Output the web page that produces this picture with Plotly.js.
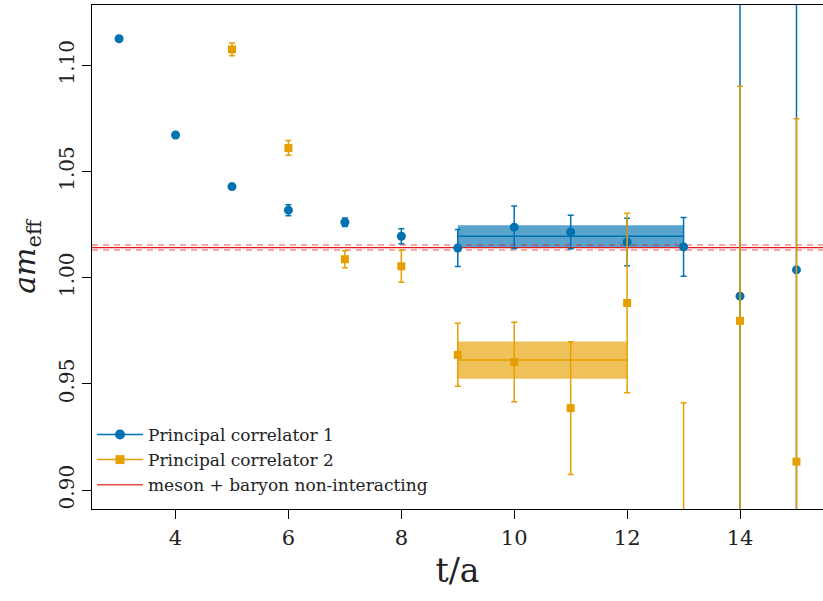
<!DOCTYPE html>
<html>
<head>
<meta charset="utf-8">
<script src="https://cdn.plot.ly/plotly-3.0.1.min.js"></script>
<style>html,body{margin:0;padding:0;background:#fff;}#chart{width:823px;height:601px;}</style>
</head>
<body>
<div id="chart"></div>
<script>
// Principal correlator 1 (blue circles)
const t1 = [3, 4, 5, 6, 7, 8, 9, 10, 11, 12, 13, 14, 15];
const m1 = [1.1125, 1.0672, 1.0429, 1.0318, 1.0261, 1.0195, 1.0140, 1.0238, 1.0215, 1.0168, 1.0145, 0.9913, 1.0037];
const e1 = [0.0008, 0.0008, 0.0010, 0.0026, 0.0020, 0.0035, 0.0087, 0.0100, 0.0079, 0.0112, 0.0138, 0.1500, 0.1600];

// Principal correlator 2 (orange squares)
const t2 = [5, 6, 7, 8, 9, 10, 11, 12, 13, 14, 15];
const m2 = [1.1075, 1.0611, 1.0087, 1.0054, 0.9637, 0.9603, 0.9386, 0.9881, 0.8700, 0.9797, 0.9134];
const e2 = [0.0030, 0.0035, 0.0040, 0.0075, 0.0148, 0.0187, 0.0313, 0.0423, 0.0711, 0.1104, 0.1615];

// Plateau fits
const fit1Range = [9, 13];
const fit1Val = 1.0195;
const fit1Err = 0.0052;
const fit2Range = [9, 12];
const fit2Val = 0.9612;
const fit2Err = 0.0088;

// meson + baryon non-interacting level
const nonIntVal = 1.0142;
const nonIntErr = 0.0012;

const seriesNames = ["Principal correlator 1", "Principal correlator 2", "meson + baryon non-interacting"];

const xRange = [2.52, 15.47];
const yRange = [0.8911, 1.1284];
const xTicks = [4, 6, 8, 10, 12, 14];
const yTicks = [0.90, 0.95, 1.00, 1.05, 1.10];
const yTickText = ["0.90", "0.95", "1.00", "1.05", "1.10"];

const blue = "#0072B2";
const orange = "#E69F00";
const red = "#E41A1C";
const serif = "DejaVu Serif";

function band(range, val, err, color, fill) {
  return [
    {x: [range[0], range[1], range[1], range[0], range[0]],
     y: [val - err, val - err, val + err, val + err, val - err],
     mode: "lines", fill: "toself", fillcolor: fill, line: {width: 0},
     hoverinfo: "skip", showlegend: false},
    {x: range, y: [val, val], mode: "lines", line: {color: color, width: 1.5},
     hoverinfo: "skip", showlegend: false}
  ];
}

const traces = [];
traces.push(...band(fit1Range, fit1Val, fit1Err, blue, "rgba(0,114,178,0.65)"));
traces.push(...band(fit2Range, fit2Val, fit2Err, orange, "rgba(230,159,0,0.65)"));

traces.push({x: xRange, y: [nonIntVal + nonIntErr, nonIntVal + nonIntErr], mode: "lines",
  line: {color: "rgba(228,26,28,0.5)", width: 1.5, dash: "6px,5px"}, showlegend: false, hoverinfo: "skip"});
traces.push({x: xRange, y: [nonIntVal - nonIntErr, nonIntVal - nonIntErr], mode: "lines",
  line: {color: "rgba(228,26,28,0.5)", width: 1.5, dash: "6px,5px"}, showlegend: false, hoverinfo: "skip"});
traces.push({x: xRange, y: [nonIntVal, nonIntVal], mode: "lines",
  line: {color: red, width: 1.2}, showlegend: false, hoverinfo: "skip"});

traces.push({x: t1, y: m1, mode: "markers", showlegend: false,
  marker: {symbol: "circle", size: 9, color: blue},
  error_y: {type: "data", array: e1, visible: true, color: blue, thickness: 1.5, width: 3}});
traces.push({x: t2, y: m2, mode: "markers", showlegend: false,
  marker: {symbol: "square", size: 8, color: orange},
  error_y: {type: "data", array: e2, visible: true, color: orange, thickness: 1.5, width: 3}});

traces.push({x: [null], y: [null], name: seriesNames[0], mode: "lines+markers",
  line: {color: blue, width: 1.5}, marker: {symbol: "circle", size: 10, color: blue}});
traces.push({x: [null], y: [null], name: seriesNames[1], mode: "lines+markers",
  line: {color: orange, width: 1.5}, marker: {symbol: "square", size: 9, color: orange}});
traces.push({x: [null], y: [null], name: seriesNames[2], mode: "lines",
  line: {color: "rgba(228,26,28,0.8)", width: 1.5}});

const layout = {
  width: 823, height: 601,
  margin: {l: 92, r: 0, t: 4.5, b: 92},
  paper_bgcolor: "#fff", plot_bgcolor: "#fff",
  font: {family: serif, color: "#222", size: 17},
  showlegend: true,
  legend: {x: 0, y: 0.012, xanchor: "left", yanchor: "bottom", bgcolor: "rgba(255,255,255,0)",
    font: {size: 17, family: serif, color: "#222"}, tracegroupgap: 0, itemwidth: 46},
  xaxis: {range: xRange, tickvals: xTicks, ticktext: xTicks.map(String), ticks: "outside", ticklen: 9,
    tickcolor: "#000", showline: true, linecolor: "#000", linewidth: 1.3, mirror: true,
    showgrid: false, zeroline: false, tickfont: {size: 21, family: serif, color: "#222"},
    title: {text: "t/a", font: {size: 33, family: serif, color: "#222"}, standoff: 10}},
  yaxis: {range: yRange, tickvals: yTicks, ticktext: yTickText, ticks: "outside", ticklen: 9,
    tickcolor: "#000", showline: true, linecolor: "#000", linewidth: 1.3, mirror: false,
    showgrid: false, zeroline: false, tickfont: {size: 20, family: serif, color: "#222"}, tickangle: -90,
    title: {text: "<i>am</i><sub>eff</sub>", font: {size: 30, family: serif, color: "#222"}, standoff: 10}}
};

Plotly.newPlot("chart", traces, layout, {displayModeBar: false, staticPlot: true});
</script>
</body>
</html>
